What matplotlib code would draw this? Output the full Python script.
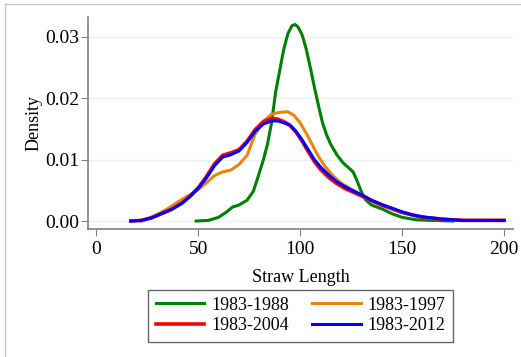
import matplotlib
matplotlib.use("Agg")
import matplotlib.pyplot as plt
from matplotlib.lines import Line2D

plt.rcParams['font.family'] = ['Liberation Serif', 'DejaVu Serif']

# density curves
x_88 = [49, 55, 60, 64, 67, 70, 74, 77, 79, 82, 84, 86, 88, 90, 92, 94, 96, 97.5, 99, 101,
        103, 105, 107, 109, 111, 113, 115, 118, 121, 123, 126, 128, 130, 132, 135, 140, 145,
        150, 157, 165, 175]
y_88 = [0, 0.0001, 0.0006, 0.0015, 0.0023, 0.0026, 0.0034, 0.0048, 0.0068, 0.0100, 0.0125,
        0.0160, 0.0210, 0.0245, 0.0280, 0.0305, 0.0318, 0.0320, 0.0316, 0.0303, 0.0280, 0.0250,
        0.0218, 0.0188, 0.0160, 0.0140, 0.0125, 0.0108, 0.0095, 0.0089, 0.0080, 0.0065, 0.0048,
        0.0035, 0.0026, 0.0020, 0.0012, 0.0006, 0.0002, 0.0001, 0]

x_97 = [22, 26, 30, 35, 40, 45, 50, 54, 58, 62, 66, 70, 74, 78, 82, 86, 90, 94, 97, 100, 103,
        106, 109, 112, 116, 120, 125, 130, 135, 140, 145, 150, 155, 160, 170, 180, 190, 200]
y_97 = [0, 0.0005, 0.0011, 0.0020, 0.0031, 0.0041, 0.0051, 0.0062, 0.0074, 0.0080, 0.0083,
        0.0092, 0.0107, 0.0142, 0.0162, 0.0174, 0.0177, 0.0178, 0.0172, 0.0160, 0.0143, 0.0124,
        0.0105, 0.0090, 0.0074, 0.0062, 0.0052, 0.0043, 0.0034, 0.0027, 0.0020, 0.0014, 0.0010,
        0.0006, 0.0003, 0.0001, 0.0001, 0.0001]

x_04 = [17, 22, 27, 32, 37, 42, 46, 50, 54, 58, 62, 66, 70, 74, 78, 82, 86, 89, 92, 95, 98,
        101, 104, 107, 110, 114, 118, 122, 126, 130, 135, 140, 145, 150, 155, 160, 170, 180,
        190, 200]
y_04 = [0, 0.0001, 0.0005, 0.0012, 0.0019, 0.0029, 0.0040, 0.0054, 0.0072, 0.0093, 0.0107,
        0.0111, 0.0116, 0.0130, 0.0149, 0.0162, 0.0167, 0.0166, 0.0162, 0.0156, 0.0145, 0.0130,
        0.0113, 0.0097, 0.0084, 0.0071, 0.0061, 0.0053, 0.0047, 0.0041, 0.0033, 0.0026, 0.0020,
        0.0014, 0.0010, 0.0006, 0.0003, 0.0001, 0.0001, 0.0001]

x_12 = x_04
y_12 = [0, 0.0001, 0.0005, 0.0012, 0.0019, 0.0029, 0.0040, 0.0053, 0.0070, 0.0090, 0.0104,
        0.0108, 0.0114, 0.0128, 0.0146, 0.0158, 0.0163, 0.0163, 0.0160, 0.0156, 0.0146, 0.0132,
        0.0116, 0.0100, 0.0088, 0.0075, 0.0064, 0.0056, 0.0049, 0.0043, 0.0034, 0.0027, 0.0021,
        0.0015, 0.0010, 0.0007, 0.0003, 0.0001, 0.0001, 0.0001]

labels = ["1983-1988", "1983-1997", "1983-2004", "1983-2012"]
colors = ["#008000", "#e8850c", "#ff0000", "#0000ff"]

fig = plt.figure(figsize=(5.21, 3.57), dpi=100)
ax = fig.add_axes([0.169, 0.3585, 0.816, 0.5935])

l88, = ax.plot(x_88, y_88, color=colors[0], lw=2.2, label=labels[0])
l97, = ax.plot(x_97, y_97, color=colors[1], lw=2.2, label=labels[1])
l04, = ax.plot(x_04, y_04, color=colors[2], lw=2.6, label=labels[2])
l12, = ax.plot(x_12, y_12, color=colors[3], lw=2.2, label=labels[3])

ax.set_xlim(-4, 204.5)
ax.set_ylim(-0.0013, 0.0332)
ax.set_xticks([0, 50, 100, 150, 200])
ax.set_yticks([0, 0.01, 0.02, 0.03])
ax.set_yticklabels(["0.00", "0.01", "0.02", "0.03"])
ax.grid(axis='y', color='#eaf2f3', lw=1)
ax.set_axisbelow(True)
for s in ['top', 'right']:
    ax.spines[s].set_visible(False)
for s in ['left', 'bottom']:
    ax.spines[s].set_color('#808080')
    ax.spines[s].set_linewidth(1.2)
ax.tick_params(colors='#808080', labelcolor='black', labelsize=14, length=5)
ax.tick_params(axis='y', pad=1)
ax.set_xlabel("Straw Length", fontsize=13, labelpad=8)
ax.set_ylabel("Density", fontsize=13, labelpad=2)

# legend filled row by row like the reference
fig.legend([l88, l04, l97, l12], [labels[0], labels[2], labels[1], labels[3]],
           loc='center', bbox_to_anchor=(0.577, 0.116), ncol=2, fontsize=13,
           frameon=True, fancybox=False, edgecolor='#404040', handlelength=2.7,
           columnspacing=1.25, labelspacing=0.2, borderpad=0.4, handletextpad=0.4)

# outer graph region border (clipped at right/bottom in the reference)
fig.add_artist(Line2D([5/521, 5/521], [0, 1 - 4/357], color='#c8c8c8', lw=1))
fig.add_artist(Line2D([5/521, 1], [1 - 4/357, 1 - 4/357], color='#c8c8c8', lw=1))

fig.savefig("out.png", dpi=100)
